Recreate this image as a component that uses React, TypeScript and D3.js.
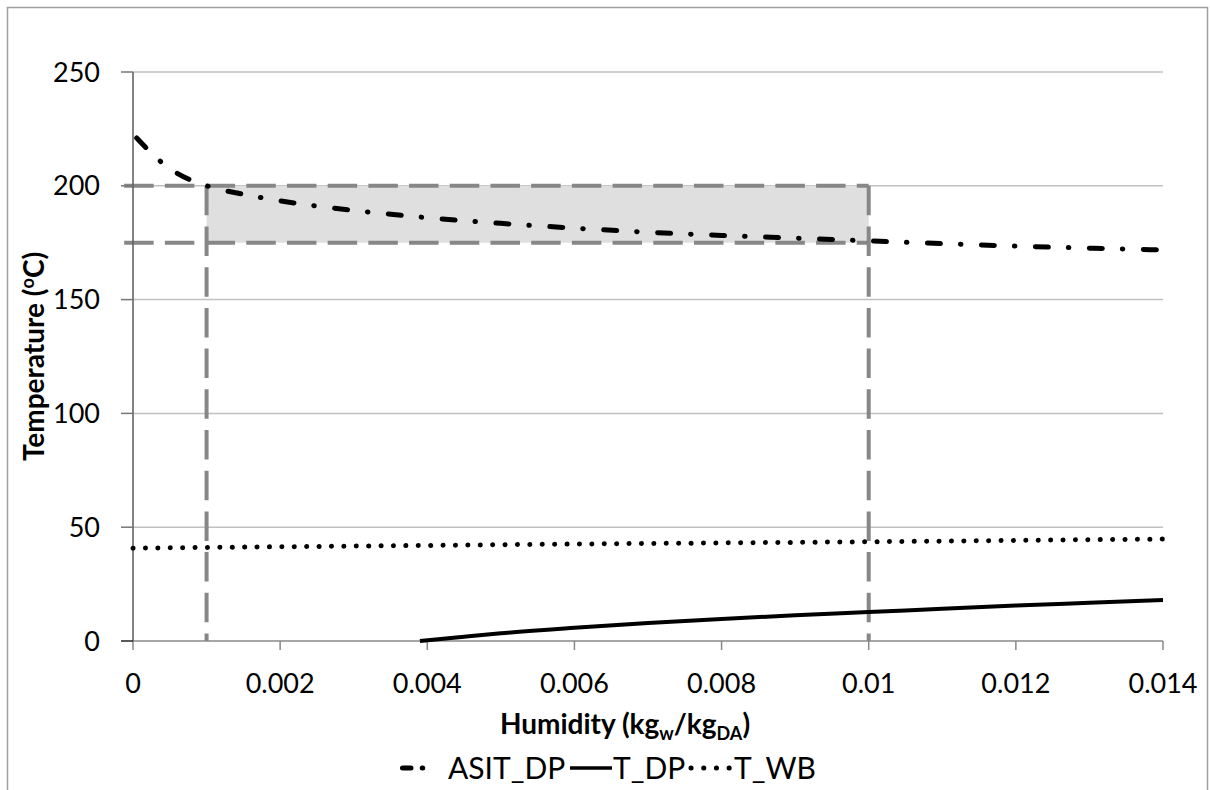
import React from "react";
import * as d3 from "d3";

// ---- data ----
const ASIT_X = [0.00005, 0.0002, 0.0004, 0.0006, 0.0008, 0.001, 0.0015, 0.002, 0.003, 0.004, 0.005, 0.006, 0.007, 0.008, 0.009, 0.010, 0.011, 0.012, 0.013, 0.014];
const ASIT_Y = [221, 216, 210, 205.5, 202.3, 200, 196.3, 193.4, 189.2, 186, 183.5, 181.4, 179.6, 178.2, 177, 175.8, 174.6, 173.5, 172.6, 171.8];

const TDP_X = [0.0039, 0.0045, 0.005, 0.006, 0.007, 0.008, 0.009, 0.010, 0.011, 0.012, 0.013, 0.014];
const TDP_Y = [0, 1.9, 3.4, 5.8, 7.9, 9.7, 11.3, 12.7, 14.2, 15.6, 16.8, 18.0];

const TWB_X = [0, 0.002, 0.004, 0.006, 0.008, 0.010, 0.012, 0.014];
const TWB_Y = [40.8, 41.4, 42.0, 42.6, 43.1, 43.6, 44.2, 44.8];

// highlighted window
const BOX_X = [0.001, 0.01];
const BOX_Y = [175, 200];
const GUIDE_START_X = -0.00012;

const X_TICKS = [0, 0.002, 0.004, 0.006, 0.008, 0.01, 0.012, 0.014];
const X_TICK_LABELS = ["0", "0.002", "0.004", "0.006", "0.008", "0.01", "0.012", "0.014"];
const Y_TICKS = [0, 50, 100, 150, 200, 250];
const Y_TICK_LABELS = ["0", "50", "100", "150", "200", "250"];

const SERIES_NAMES = ["ASIT_DP", "T_DP", "T_WB"];

const FONT = "Lato, 'Open Sans', sans-serif";

export default function App() {
  const W = 1210, H = 790;
  const x = d3.scaleLinear().domain([0, 0.014]).range([133, 1163]);
  const y = d3.scaleLinear().domain([0, 250]).range([641, 72]);

  const line = d3.line<[number, number]>().x((d) => x(d[0])).y((d) => y(d[1])).curve(d3.curveMonotoneX);
  const straight = d3.line<[number, number]>().x((d) => x(d[0])).y((d) => y(d[1]));

  const asit = line(ASIT_X.map((v, i) => [v, ASIT_Y[i]]));
  const tdp = line(TDP_X.map((v, i) => [v, TDP_Y[i]]));
  const twb = line(TWB_X.map((v, i) => [v, TWB_Y[i]]));

  const guideColor = "#878787";
  const guideDash = "29.5 11.2";
  const legY = 768;

  return (
    <svg width={W} height={H} style={{ position: "absolute", left: 0, top: 0, background: "#fff" }} fontFamily={FONT}>
      <rect x={7.5} y={7.5} width={1200} height={800} fill="#fff" stroke="#a0a0a0" strokeWidth={1.5} />

      {/* gridlines */}
      {Y_TICKS.filter((t) => t > 0).map((t) => (
        <line key={"g" + t} x1={x(0)} x2={x(0.014)} y1={y(t)} y2={y(t)} stroke="#c0c0c0" strokeWidth={1.5} />
      ))}

      {/* shaded window */}
      <rect x={x(BOX_X[0])} y={y(BOX_Y[1])} width={x(BOX_X[1]) - x(BOX_X[0])} height={y(BOX_Y[0]) - y(BOX_Y[1])} fill="#dfdfdf" />

      {/* guide dashed lines */}
      <path d={straight([[GUIDE_START_X, BOX_Y[1]], [BOX_X[1], BOX_Y[1]]])!} stroke={guideColor} strokeWidth={4} strokeDasharray={guideDash} fill="none" />
      <path d={straight([[GUIDE_START_X, BOX_Y[0]], [BOX_X[1], BOX_Y[0]]])!} stroke={guideColor} strokeWidth={4} strokeDasharray={guideDash} fill="none" />
      <path d={straight([[BOX_X[0], BOX_Y[1]], [BOX_X[0], 0]])!} stroke={guideColor} strokeWidth={4} strokeDasharray={guideDash} fill="none" />
      <path d={straight([[BOX_X[1], BOX_Y[1]], [BOX_X[1], 0]])!} stroke={guideColor} strokeWidth={4} strokeDasharray={guideDash} fill="none" />

      {/* axes */}
      <line x1={x(0)} x2={x(0.014)} y1={y(0)} y2={y(0)} stroke="#888" strokeWidth={1.5} />
      {X_TICKS.map((t) => (
        <line key={"xt" + t} x1={x(t)} x2={x(t)} y1={y(0)} y2={y(0) + 9} stroke="#888" strokeWidth={1.5} />
      ))}
      <line x1={x(0)} x2={x(0)} y1={y(250)} y2={y(0)} stroke="#5a5a5a" strokeWidth={1.5} />
      {Y_TICKS.map((t) => (
        <line key={"yt" + t} x1={x(0) - 12} x2={x(0)} y1={y(t)} y2={y(t)} stroke={t === 0 ? "#222" : "#777"} strokeWidth={1.5} />
      ))}

      {/* series */}
      <path d={twb!} fill="none" stroke="#000" strokeWidth={5} strokeLinecap="round" strokeDasharray="0.1 12.3" />
      <path d={tdp!} fill="none" stroke="#000" strokeWidth={4} />
      <path d={asit!} fill="none" stroke="#000" strokeWidth={5} strokeLinecap="round" strokeDasharray="13 20 0.5 20.5" />

      {/* tick labels */}
      {Y_TICKS.map((t, i) => (
        <text key={"yl" + t} x={100} y={y(t) + 9.5} textAnchor="end" fontSize={27} fill="#000">{Y_TICK_LABELS[i]}</text>
      ))}
      {X_TICKS.map((t, i) => (
        <text key={"xl" + t} x={x(t)} y={693} textAnchor="middle" fontSize={27} fill="#000">{X_TICK_LABELS[i]}</text>
      ))}

      {/* axis titles */}
      <text x={625} y={734} textAnchor="middle" fontSize={28} fontWeight="bold" fill="#000">
        Humidity (kg<tspan fontSize={18} dy={6}>w</tspan><tspan dy={-6}>/kg</tspan><tspan fontSize={18} dy={6}>DA</tspan><tspan dy={-6}>)</tspan>
      </text>
      <text transform={`translate(44, ${(y(0) + y(250)) / 2}) rotate(-90)`} textAnchor="middle" fontSize={28} fontWeight="bold" fill="#000">
        Temperature (<tspan fontSize={18} dy={-10}>o</tspan><tspan dy={10}>C)</tspan>
      </text>

      {/* legend */}
      <g>
        <line x1={402.5} x2={444} y1={legY} y2={legY} stroke="#000" strokeWidth={5} strokeLinecap="round" strokeDasharray="8.5 11.2 0.5 40" />
        <text x={448} y={legY + 10.5} fontSize={30} fill="#000">{SERIES_NAMES[0]}</text>
        <line x1={570} x2={612} y1={legY} y2={legY} stroke="#000" strokeWidth={3.5} />
        <text x={613} y={legY + 10.5} fontSize={30} fill="#000">{SERIES_NAMES[1]}</text>
        <line x1={691} x2={732} y1={legY} y2={legY} stroke="#000" strokeWidth={5} strokeLinecap="round" strokeDasharray="0.1 12.6" />
        <text x={734} y={legY + 10.5} fontSize={30} fill="#000">{SERIES_NAMES[2]}</text>
      </g>
    </svg>
  );
}
